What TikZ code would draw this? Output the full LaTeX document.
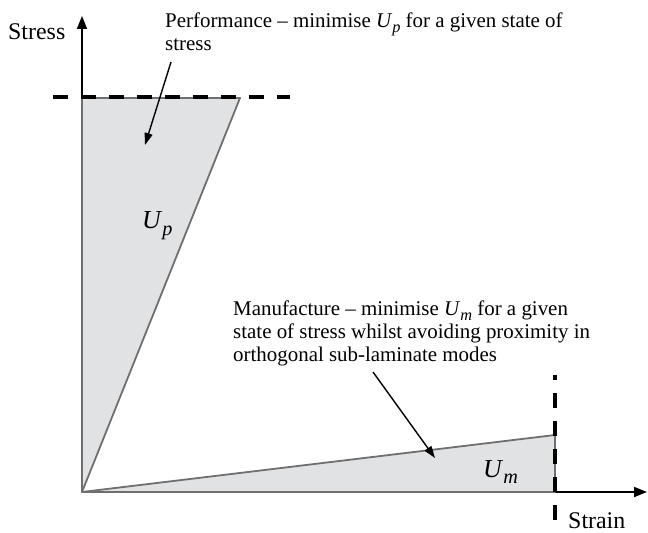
\documentclass[tikz,border=0pt]{standalone}
\usepackage{fontspec}
\setmainfont{Liberation Serif}
\usepackage{graphicx}
\usetikzlibrary{arrows.meta}
\definecolor{cfill}{HTML}{E1E2E4}
\definecolor{cedge}{HTML}{6F6F6F}
\newcommand{\Usub}[1]{\textit{U}\raisebox{-0.25em}{\scalebox{0.78}{\textit{#1}}}}
\tikzset{
  axis/.style={-{Triangle[length=13bp,width=10bp]}, line width=1.8bp, black},
  region/.style={draw=cedge, fill=cfill, line width=1.8bp, line join=round},
  limit/.style={draw=black, line width=4bp, dash pattern=on 15bp off 13bp},
  pointer/.style={-{Triangle[length=12bp,width=8bp]}, line width=1.4bp, black},
  axislabel/.style={font=\fontsize{24}{28}\selectfont, inner sep=0pt, anchor=base west},
  note/.style={font=\fontsize{21}{24}\selectfont, align=left, inner sep=0pt, anchor=base west},
  energy/.style={font=\fontsize{26}{30}\selectfont, inner sep=0pt, anchor=base west},
}

\begin{document}
\begin{tikzpicture}[x=1bp, y=-1bp]
  \useasboundingbox (0,0) rectangle (648,533);
  % ---- axes
  \coordinate (O) at (82,492);
  \coordinate (ytop) at (82,16);
  \coordinate (xend) at (647,492);
  \draw[axis] (O) -- (ytop);
  \draw[axis] (O) -- (xend);
  \node[axislabel] (stress) at (8,40) {Stress};
  \node[axislabel] (strain) at (568,528) {Strain};
  % ---- strain energy triangles
  \coordinate (Ptop) at (82,98);
  \coordinate (P) at (240,98);
  \coordinate (Mbase) at (555,492);
  \coordinate (M) at (555,435);
  \draw[region] (O) -- (Ptop) -- (P) -- cycle;
  \draw[region] (O) -- (Mbase) -- (M) -- cycle;
  \node[energy] (Up) at (142,229) {\Usub{p}};
  \node[energy] (Um) at (483,477) {\Usub{m}};
  % ---- stress and strain limits
  \coordinate (hl) at (53,97);
  \coordinate (hr) at (290,97);
  \coordinate (vb) at (555,520);
  \coordinate (vt) at (555,375);
  \draw[limit] (hl) -- (hr);
  \draw[limit] (vb) -- (vt);
  % ---- notes (base of a multi-line node is its last line)
  \node[note] (perf) at (165,51) {Performance -- minimise \Usub{p} for a given state of\\stress};
  \node[note, font=\fontsize{21}{23}\selectfont] (manu) at (233,361) {Manufacture -- minimise \Usub{m} for a given\\state of stress whilst avoiding proximity in\\orthogonal sub-laminate modes};
  \coordinate (pfrom) at (171,62);
  \coordinate (pto) at (145,145);
  \coordinate (mfrom) at (373,372);
  \coordinate (mto) at (435,458);
  \draw[pointer] (pfrom) -- (pto);
  \draw[pointer] (mfrom) -- (mto);
\end{tikzpicture}
\end{document}
